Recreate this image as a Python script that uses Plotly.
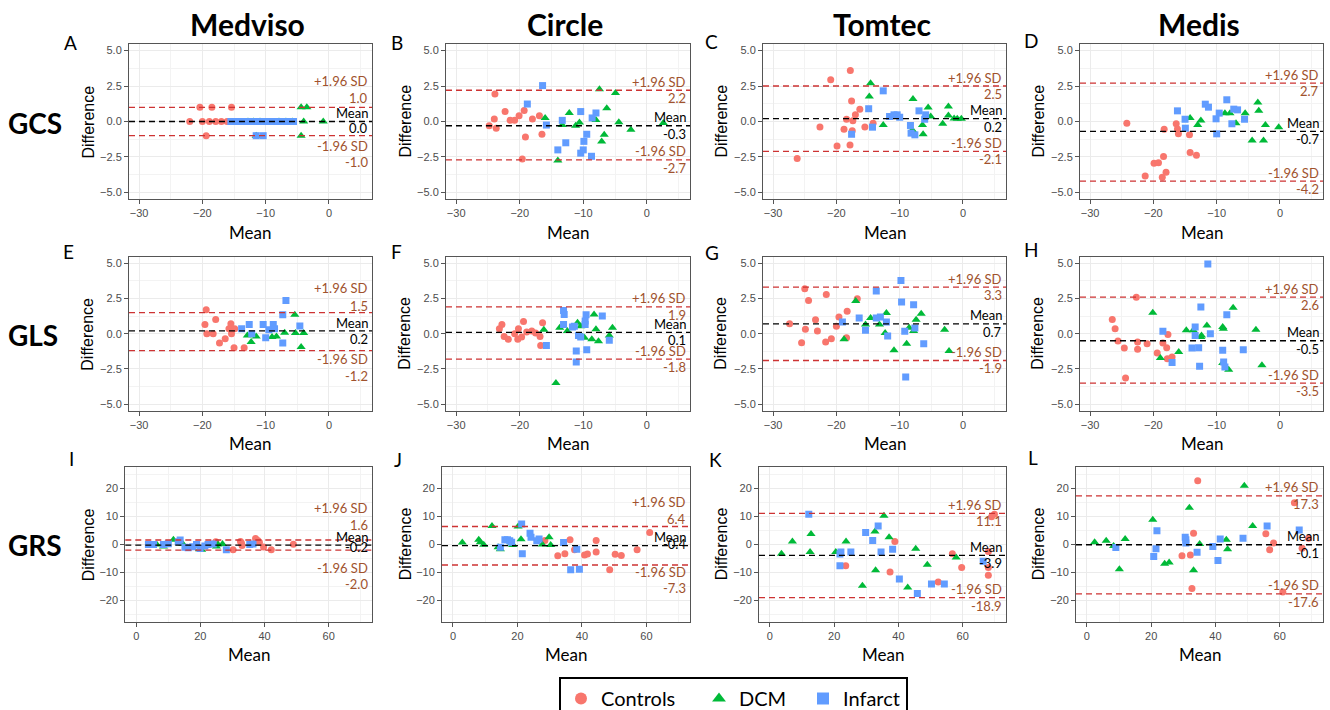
import plotly.graph_objects as go

W, H = 1330, 710

software = ["Medviso", "Circle", "Tomtec", "Medis"]
strain_types = ["GCS", "GLS", "GRS"]
panel_letters = ["A", "B", "C", "D", "E", "F", "G", "H", "I", "J", "K", "L"]
groups = ["Controls", "DCM", "Infarct"]
group_colors = ["#F8766D", "#00BA38", "#619CFF"]
group_symbols = ["circle", "triangle-up", "square"]
legend_entry_px = [93, 59, 58]

# Bland-Altman statistics per panel (A..L)
bias = [0.0, -0.3, 0.2, -0.7, 0.2, 0.1, 0.7, -0.5, -0.2, -0.4, -3.9, -0.1]
upper_loa = [1.0, 2.2, 2.5, 2.7, 1.5, 1.9, 3.3, 2.6, 1.6, 6.4, 11.1, 17.3]
lower_loa = [-1.0, -2.7, -2.1, -4.2, -1.2, -1.8, -1.9, -3.5, -2.0, -7.3, -18.9, -17.6]

# ---- Panel A: GCS Medviso ----
A_ctl_x = [-22.0, -20.4, -20.0, -19.4, -18.9, -18.5, -17.9, -17.0, -16.1, -15.4]
A_ctl_y = [0, 1, 0, -1, 0, 1, 0, 0, 0, 1]
A_dcm_x = [-12.8, -11.9, -11.5, -10.9, -7.9, -6.8, -5.8, -4.4, -4.4, -3.5, -4.0, -0.9]
A_dcm_y = [0, 0, -1, 0, 0, 0, 0, 1, -1, 1, 0, 0]
A_inf_x = [-15.5, -14.7, -14.0, -13.2, -12.5, -11.7, -11.5, -10.9, -10.4, -10.2, -9.5, -8.8, -8.1, -7.4, -6.7, -6.0, -5.6]
A_inf_y = [0, 0, 0, 0, 0, 0, -1, 0, -1, 0, 0, 0, 0, 0, 0, 0, 0]

# ---- Panel B: GCS Circle ----
B_ctl_x = [-24.8, -23.9, -24.0, -23.7, -22.3, -21.5, -20.8, -20.1, -19.3, -19.1, -19.6, -18.0, -16.9, -16.5]
B_ctl_y = [-0.3, 1.93, 0.17, -0.47, 0.71, 0.08, 0.08, 0.4, 0.78, -1.1, -2.65, 0.17, 0.4, -0.9]
B_dcm_x = [-16.0, -13.3, -14.0, -12.2, -11.2, -10.6, -7.45, -8.0, -6.3, -4.93, -4.4, -6.7, -7.1, -2.5, 2.6]
B_dcm_y = [0.25, -0.25, -2.75, 0.6, -0.3, -0.07, 2.28, 0.1, 0.93, 2.0, -0.05, -0.94, -1.41, -0.58, -0.1]
B_inf_x = [-16.4, -18.8, -15.8, -13.3, -14.0, -12.75, -10.4, -9.9, -9.45, -10.4, -10.0, -8.7, -8.6, -8.0]
B_inf_y = [2.53, 1.23, -0.25, 0.08, -2.0, -1.5, 0.7, -1.4, -0.9, -2.23, -2.0, -2.45, 0.25, 0.6]

# ---- Panel C: GCS Tomtec ----
C_ctl_x = [-26.2, -22.6, -20.9, -19.9, -18.8, -18.4, -17.8, -17.6, -17.5, -17.85, -17.4, -17.0, -16.3, -15.5, -14.2]
C_ctl_y = [-2.6, -0.38, 2.94, -1.72, -0.54, 0.16, 3.6, 1.44, -0.66, -1.65, 0.05, 0.47, 0.87, -0.38, -0.12]
C_dcm_x = [-14.6, -14.8, -12.6, -7.9, -8.0, -6.4, -6.3, -5.5, -5.1, -3.2, -2.3, -2.3, -1.4, -0.9, -0.26]
C_dcm_y = [2.7, 1.76, -0.24, 1.58, -0.6, -0.24, -0.9, 0.99, 0.35, -0.16, 1.06, 0.42, 0.21, 0.2, 0.19]
C_inf_x = [-17.6, -14.9, -14.3, -12.6, -11.6, -10.9, -10.4, -10.0, -8.3, -8.2, -7.6, -6.95, -6.05, -5.9]
C_inf_y = [-0.9, 0.9, -0.4, 2.16, 0.35, 0.47, 0.47, 0.3, -0.28, -0.82, -0.94, 0.75, 0.16, 0.47]

# ---- Panel D: GCS Medis ----
D_ctl_x = [-24.2, -21.3, -19.9, -19.2, -18.4, -18.6, -18.0, -18.3, -16.4, -16.2, -16.05, -14.3, -14.2, -13.2]
D_ctl_y = [-0.12, -3.84, -2.94, -2.9, -2.47, -3.93, -3.58, -0.54, -0.16, -0.52, -0.87, -0.94, -2.19, -2.38]
D_dcm_x = [-14.2, -13.0, -12.5, -8.7, -7.9, -6.95, -5.5, -3.5, -3.35, -2.3, -0.2, -4.4, -2.6]
D_dcm_y = [0.24, -0.24, 0.07, 0.59, 0.59, -0.12, 0.59, 1.34, 0.75, -0.24, -0.4, -1.34, -1.34]
D_inf_x = [-16.2, -15.0, -14.95, -11.8, -11.3, -10.1, -9.6, -10.0, -8.4, -7.3, -6.7, -7.6, -5.6]
D_inf_y = [0.75, 0.16, -0.47, 1.22, 1.01, 0.19, 0.59, -0.87, 1.53, 0.87, 0.82, -0.16, 0.16]

# ---- Panel E: GLS Medviso ----
E_ctl_x = [-19.6, -19.4, -19.3, -17.9, -18.3, -17.3, -16.4, -15.8, -15.5, -15.4, -15.0, -14.9, -13.4]
E_ctl_y = [0.66, 1.7, 0.0, 1.01, 0.0, -0.66, -0.35, 0.35, 0.71, 0.0, -1.0, 0.35, -1.0]
E_dcm_x = [-12.9, -12.3, -11.5, -9.0, -8.3, -7.0, -5.4, -5.3, -4.0, -4.4]
E_dcm_y = [-0.12, -0.59, -0.19, -0.24, -0.19, 0.07, 1.34, 0.05, 0.05, -0.94]
E_inf_x = [-13.8, -12.6, -12.2, -10.4, -10.0, -9.5, -8.8, -8.6, -7.3, -6.8, -7.3, -4.6]
E_inf_y = [0.35, 0.66, 0.0, 0.66, -0.28, 0.28, 0.66, 0.35, 1.34, 2.36, -0.66, 0.54]

# ---- Panel F: GLS Circle ----
F_ctl_x = [-22.8, -23.2, -22.45, -21.8, -20.8, -20.2, -20.3, -19.7, -19.4, -18.9, -18.1, -17.5, -16.8, -16.4, -16.7]
F_ctl_y = [0.66, 0.35, -0.19, -0.4, 0.0, 0.35, -0.4, -0.24, 0.87, 0.12, 0.19, 0.05, -0.19, 0.78, -0.83]
F_dcm_x = [-16.2, -14.3, -13.7, -12.5, -10.9, -10.4, -10.1, -9.8, -8.3, -8.65, -8.0, -7.6, -5.9, -5.4]
F_dcm_y = [0.28, -3.49, 0.42, 0.19, 0.78, 0.52, -0.24, -0.28, 1.37, -0.4, 0.31, -0.54, -0.12, 0.42]
F_inf_x = [-15.8, -13.1, -13.0, -13.1, -11.7, -11.4, -11.1, -11.1, -10.75, -10.4, -9.55, -9.7, -9.7, -9.45, -7.0, -5.9]
F_inf_y = [-0.83, 1.65, 1.37, 0.66, 0.47, 0.52, -1.23, -2.0, -0.12, -0.24, 1.34, 0.9, 0.66, -1.13, 1.25, -0.47]

# ---- Panel G: GLS Tomtec ----
G_ctl_x = [-27.4, -25.5, -25.0, -24.9, -24.4, -23.3, -23.0, -21.6, -21.7, -20.8, -20.0, -19.6, -18.3, -18.4, -16.7]
G_ctl_y = [0.71, -0.64, 3.18, 0.31, 2.36, 0.99, 0.19, 2.78, -0.59, -0.35, 0.52, 1.18, 1.6, -0.28, 2.48]
G_dcm_x = [-16.95, -18.8, -15.4, -14.6, -13.2, -12.1, -12.3, -10.9, -8.9, -8.5, -7.8, -7.4, -6.6, -2.9, -2.2]
G_dcm_y = [2.31, -0.4, 0.66, 1.11, 0.66, 1.46, 0.05, -1.18, -0.71, 0.42, 0.19, 0.99, 1.42, 0.28, -1.23]
G_inf_x = [-19.05, -16.4, -15.4, -13.7, -13.7, -13.05, -12.1, -11.9, -9.8, -9.7, -9.2, -7.8, -7.6, -6.2, -9.05]
G_inf_y = [0.83, 1.11, 0.24, 3.02, 1.11, 1.18, 0.83, -0.17, 3.77, 2.24, 0.17, 2.05, 0.4, -0.71, -3.07]

# ---- Panel H: GLS Medis ----
H_ctl_x = [-26.5, -26.05, -25.6, -24.6, -24.4, -22.7, -22.5, -22.5, -21.0, -19.4, -18.5, -17.9, -17.7, -17.8, -17.05]
H_ctl_y = [1.01, 0.35, -0.52, -1.01, -3.14, 2.59, -0.59, -1.11, -0.71, -1.37, -0.66, -0.99, -0.05, -1.77, -1.65]
H_dcm_x = [-20.1, -18.9, -16.0, -14.8, -13.7, -12.5, -12.4, -11.55, -9.05, -8.95, -9.05, -8.1, -7.4, -3.8, -2.85]
H_dcm_y = [1.49, -1.72, -1.3, 0.24, 0.24, -0.24, -0.12, 0.59, 0.47, 0.35, -2.08, -2.55, 1.84, 0.28, -2.24]
H_inf_x = [-18.5, -17.05, -13.9, -13.4, -13.4, -12.85, -12.7, -12.5, -11.4, -11.0, -9.05, -8.9, -8.7, -8.4, -5.8]
H_inf_y = [0.17, -2.05, -1.01, 0.47, -0.12, -0.99, -2.31, 1.89, 4.95, 0.0, -1.18, -2.0, -2.36, 1.34, -1.13]

# ---- Panel I: GRS Medviso ----
I_ctl_x = [24.8, 30.2, 32.5, 32.8, 33.0, 37.2, 37.9, 38.4, 39.7, 42.1, 49.0]
I_ctl_y = [1.0, -1.9, 1.1, 0.5, -0.4, 2.1, 1.4, 0.8, -0.9, -1.9, 0.1]
I_dcm_x = [6.4, 8.5, 11.6, 14.5, 19.7, 20.4, 25.0, 25.5, 26.9]
I_dcm_y = [0.0, -0.7, 1.66, 0.3, -1.66, -1.9, -0.7, 0.0, 0.2]
I_inf_x = [3.8, 5.4, 8.5, 10.0, 13.1, 13.7, 15.2, 16.2, 17.6, 18.8, 19.9, 21.4, 22.4, 24.0, 28.1, 35.4, 36.4]
I_inf_y = [0.0, 0.0, 0.0, 0.3, 1.0, 1.6, -1.0, -1.2, -0.8, 0.0, -1.4, -0.5, 0.0, 0.2, -1.9, 0.0, 0.2]

# ---- Panel J: GRS Circle ----
J_ctl_x = [28.5, 32.5, 34.7, 36.3, 37.7, 40.8, 41.7, 44.4, 44.4, 48.6, 50.3, 52.2, 57.1, 61.0]
J_ctl_y = [1.4, -4.0, -3.3, 1.66, -1.9, -3.7, -3.4, 1.4, -2.7, -9.0, -3.5, -3.9, -1.9, 4.3]
J_dcm_x = [2.9, 8.0, 8.5, 9.55, 12.1, 14.0, 14.7, 18.2, 18.5, 20.2, 21.1, 27.7, 29.8, 30.3]
J_dcm_y = [0.7, 1.66, 0.8, -0.1, 6.6, -0.95, -1.66, 0.47, -0.2, 6.4, 1.9, 0.0, 2.6, -0.2]
J_inf_x = [14.7, 16.1, 16.9, 17.6, 18.2, 21.3, 21.5, 23.9, 24.2, 26.0, 26.7, 34.3, 38.4, 36.5, 39.2]
J_inf_y = [-0.95, 1.66, 1.66, 1.3, 0.8, 7.3, -3.3, 4.0, 2.6, 1.3, 2.0, 0.7, -1.66, -9.0, -8.8]

# ---- Panel K: GRS Tomtec ----
K_ctl_x = [23.6, 38.9, 37.4, 52.4, 56.8, 59.7, 68.0, 68.0, 68.0, 69.0, 69.9]
K_ctl_y = [-7.6, 1.1, -9.8, -13.4, -3.3, -8.2, -8.2, -11.0, -2.5, 9.9, 10.8]
K_dcm_x = [3.6, 7.0, 12.8, 12.5, 20.5, 23.7, 28.8, 32.7, 32.9, 35.5, 37.1, 42.9, 45.4, 49.0, 58.0]
K_dcm_y = [-3.3, 1.1, 3.7, -2.7, -2.7, 1.1, -14.7, 4.6, -9.2, 10.2, 2.6, -15.3, -1.5, -7.2, -4.6]
K_inf_x = [12.1, 21.8, 22.1, 21.8, 25.2, 29.8, 32.0, 33.7, 34.6, 38.2, 40.3, 45.9, 50.3, 54.3, 66.4]
K_inf_y = [10.8, -3.4, -2.7, -7.6, -2.7, 4.3, 1.4, 6.6, -2.7, -1.66, -12.3, -17.5, -14.1, -14.1, -6.0]

# ---- Panel L: GRS Medis ----
L_ctl_x = [29.6, 32.2, 32.7, 33.2, 34.5, 55.7, 56.9, 58.1, 61.0, 64.6, 67.0, 69.0]
L_ctl_y = [-4.0, -3.7, -15.7, 4.0, 22.7, 3.8, -1.9, 0.5, -16.9, 14.9, -1.3, 2.2]
L_dcm_x = [2.4, 6.0, 8.3, 11.9, 10.1, 20.5, 24.2, 25.6, 31.9, 33.2, 35.1, 43.4, 43.8, 49.0, 51.6]
L_dcm_y = [0.8, 1.3, -0.5, 2.0, -8.8, 8.8, -6.9, -6.4, 13.1, -9.2, 0.2, 1.66, -1.66, 20.9, 6.6]
L_inf_x = [9.0, 20.8, 21.5, 21.8, 30.6, 30.8, 30.8, 34.3, 39.2, 40.8, 41.5, 48.6, 56.1, 66.1]
L_inf_y = [-1.1, -4.3, -1.5, 4.9, 2.6, 1.66, 0.5, -2.8, -0.7, -5.7, 2.0, 2.2, 6.6, 5.2]

panels = [
    [(A_ctl_x, A_ctl_y), (A_dcm_x, A_dcm_y), (A_inf_x, A_inf_y)],
    [(B_ctl_x, B_ctl_y), (B_dcm_x, B_dcm_y), (B_inf_x, B_inf_y)],
    [(C_ctl_x, C_ctl_y), (C_dcm_x, C_dcm_y), (C_inf_x, C_inf_y)],
    [(D_ctl_x, D_ctl_y), (D_dcm_x, D_dcm_y), (D_inf_x, D_inf_y)],
    [(E_ctl_x, E_ctl_y), (E_dcm_x, E_dcm_y), (E_inf_x, E_inf_y)],
    [(F_ctl_x, F_ctl_y), (F_dcm_x, F_dcm_y), (F_inf_x, F_inf_y)],
    [(G_ctl_x, G_ctl_y), (G_dcm_x, G_dcm_y), (G_inf_x, G_inf_y)],
    [(H_ctl_x, H_ctl_y), (H_dcm_x, H_dcm_y), (H_inf_x, H_inf_y)],
    [(I_ctl_x, I_ctl_y), (I_dcm_x, I_dcm_y), (I_inf_x, I_inf_y)],
    [(J_ctl_x, J_ctl_y), (J_dcm_x, J_dcm_y), (J_inf_x, J_inf_y)],
    [(K_ctl_x, K_ctl_y), (K_dcm_x, K_dcm_y), (K_inf_x, K_inf_y)],
    [(L_ctl_x, L_ctl_y), (L_dcm_x, L_dcm_y), (L_inf_x, L_inf_y)],
]

# ---------------- layout (pixels) ----------------
col_px = [(129, 372), (446, 690), (763, 1006), (1080, 1323)]
col_px_r3 = [(125.3, 372), (442, 690), (759, 1006), (1076, 1323)]
row_px = [(44, 199), (256.7, 410.7), (467, 621.7)]
letter_px = [(70.7, 42), (396.7, 42), (711.7, 41.5), (1030.5, 40),
             (68.3, 251.7), (396.7, 251.7), (711.7, 252.5), (1031.7, 249.5),
             (71, 458.3), (398.3, 459.3), (715, 459.3), (1033.3, 457.5)]
diff_title_x = [88, 405, 721, 1038]

# label offsets (px, screen-down positive): +SD label, +SD value, Mean label, Mean value, -SD label, -SD value
default_shift = (-8.5, 8, -8.5, 8, -8.5, 8)
special_shift = {0: (-26, -9, -9, 6, 10, 26),
                 4: (-25, -7, -8, 8, 8, 25),
                 8: (-32, -15, -8, 2, 18, 34),
                 9: (-25, -8, -9, -2, 7, 23)}

SD_COL = "#a0522d"
RED_LINE = "#cd3333"
GRID = "#ebebeb"
GRID_MINOR = "#f3f3f3"
TICK_FONT = dict(family="Liberation Sans, Arial", size=11, color="#4d4d4d")


def px2x(px):
    return px / W


def px2y(py):
    return 1 - py / H


fig = go.Figure()
shapes = []
annotations = []

for p in range(12):
    r, c = divmod(p, 4)
    sfx = "" if p == 0 else str(p + 1)
    xa, ya = "x" + sfx, "y" + sfx
    x0, x1 = (col_px_r3 if r == 2 else col_px)[c]
    y0, y1 = row_px[r]

    for g in range(3):
        gx, gy = panels[p][g]
        fig.add_trace(go.Scatter(
            x=gx, y=gy, mode="markers", xaxis=xa, yaxis=ya,
            name=groups[g], legendgroup=groups[g], showlegend=(p == 0),
            legendwidth=legend_entry_px[g],
            marker=dict(symbol=group_symbols[g], color=group_colors[g],
                        size=7 if g != 1 else 8, line=dict(width=0)),
            hoverinfo="x+y"))

    if r < 2:
        xr, yr = [-31.6, 6.8], [-5.46, 5.46]
        xt, xm = [-30, -20, -10, 0], [-25, -15, -5, 5]
        yt, ym = [-5, -2.5, 0, 2.5, 5], [-3.75, -1.25, 1.25, 3.75]
        yfmt = ".1f"
    else:
        xr, yr = [-3.4, 73.5], [-27.5, 27.6]
        xt, xm = [0, 20, 40, 60], [10, 30, 50, 70]
        yt, ym = [-20, -10, 0, 10, 20], [-25, -15, -5, 5, 15, 25]
        yfmt = "d"

    common = dict(showline=True, mirror=True, linecolor="#555555", linewidth=1,
                  ticks="outside", ticklen=4, tickwidth=1, tickcolor="#555555",
                  gridcolor=GRID, gridwidth=1, zeroline=False,
                  tickfont=TICK_FONT, fixedrange=True)
    fig.layout["xaxis" + sfx] = dict(
        domain=[px2x(x0), px2x(x1)], range=xr, anchor=ya, tickvals=xt,
        minor=dict(tickvals=xm, showgrid=True, gridcolor=GRID_MINOR, gridwidth=0.6),
        **common)
    fig.layout["yaxis" + sfx] = dict(
        domain=[px2y(y1), px2y(y0)], range=yr, anchor=xa, tickvals=yt, tickformat=yfmt,
        minor=dict(tickvals=ym, showgrid=True, gridcolor=GRID_MINOR, gridwidth=0.6),
        **common)

    # reference lines
    for val, col in ((upper_loa[p], RED_LINE), (bias[p], "black"), (lower_loa[p], RED_LINE)):
        shapes.append(dict(type="line", xref=xa + " domain", x0=0, x1=1,
                           yref=ya, y0=val, y1=val, layer="above",
                           line=dict(color=col, width=1.3, dash="6px,4px")))

    sh = special_shift.get(p, default_shift)
    labels = [("+1.96 SD", upper_loa[p], SD_COL, sh[0]),
              (f"{upper_loa[p]:.1f}", upper_loa[p], SD_COL, sh[1]),
              ("Mean", bias[p], "black", sh[2]),
              (f"{bias[p]:.1f}", bias[p], "black", sh[3]),
              ("-1.96 SD", lower_loa[p], SD_COL, sh[4]),
              (f"{lower_loa[p]:.1f}", lower_loa[p], SD_COL, sh[5])]
    for txt, val, col, s in labels:
        annotations.append(dict(xref=xa + " domain", x=1, xanchor="right", xshift=-2,
                                yref=ya, y=val, yanchor="middle", yshift=-s,
                                text=txt, showarrow=False,
                                font=dict(family="Lato", size=13, color=col)))

    # axis titles
    annotations.append(dict(xref="paper", yref="paper", x=px2x((x0 + x1) / 2),
                            y=px2y(y1 + 33), text="Mean", showarrow=False,
                            xanchor="center", yanchor="middle",
                            font=dict(family="Lato", size=17, color="black")))
    annotations.append(dict(xref="paper", yref="paper", x=px2x(diff_title_x[c]),
                            y=px2y((y0 + y1) / 2), text="Difference", showarrow=False,
                            textangle=-90, xanchor="center", yanchor="middle",
                            font=dict(family="Liberation Sans, Arial", size=16, color="black")))
    # panel letters
    lx, ly = letter_px[p]
    annotations.append(dict(xref="paper", yref="paper", x=px2x(lx), y=px2y(ly),
                            text=panel_letters[p], showarrow=False,
                            xanchor="center", yanchor="middle",
                            font=dict(family="Lato", size=19, color="black")))

# column titles
for c in range(4):
    x0, x1 = col_px[c]
    annotations.append(dict(xref="paper", yref="paper", x=px2x((x0 + x1) / 2 - 3), y=px2y(24),
                            text="<b>" + software[c] + "</b>", showarrow=False,
                            xanchor="center", yanchor="middle",
                            font=dict(family="Lato", size=30, color="black")))
# row titles
for r in range(3):
    y0, y1 = row_px[r]
    annotations.append(dict(xref="paper", yref="paper", x=px2x(6), y=px2y((y0 + y1) / 2 + 1),
                            text="<b>" + strain_types[r] + "</b>", showarrow=False,
                            xanchor="left", yanchor="middle",
                            font=dict(family="Lato", size=28, color="black")))

fig.update_layout(
    width=W, height=H,
    margin=dict(l=0, r=0, t=0, b=0, pad=0, autoexpand=False),
    paper_bgcolor="white", plot_bgcolor="white",
    shapes=shapes, annotations=annotations,
    showlegend=True,
    legend=dict(orientation="h", x=px2x(559), xanchor="left", y=px2y(677), yanchor="top",
                bordercolor="black", borderwidth=2, bgcolor="white",
                font=dict(family="Lato", size=20, color="black"),
                itemsizing="constant", traceorder="normal"),
    hovermode="closest",
)

fig.write_html("out.html", config={"displayModeBar": False},
               post_script="document.body.style.margin='0px';document.body.style.padding='0px';")
